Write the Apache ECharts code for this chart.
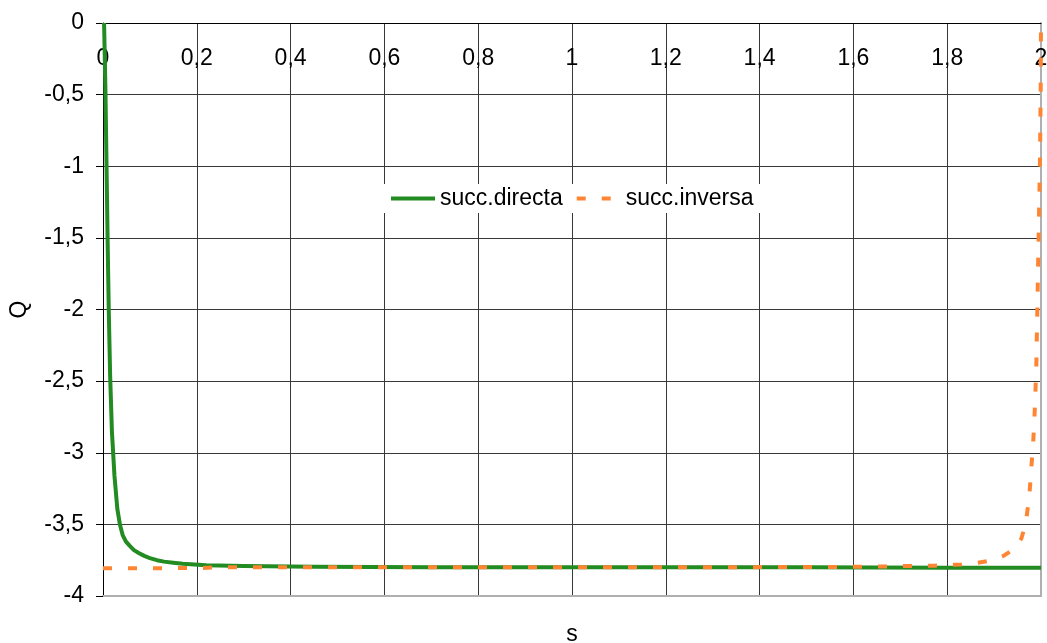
<!DOCTYPE html>
<html>
<head>
<meta charset="utf-8">
<title>Q(s)</title>
<script src="https://cdn.jsdelivr.net/npm/echarts@6/dist/echarts.min.js"></script>
<style>
  html, body { margin: 0; padding: 0; background: #fff; }
  #chart { width: 1047px; height: 643px; }
</style>
</head>
<body>
<div id="chart"></div>
<script>
// s values and Q values for the direct succession
const directaS = [0.0023, 0.0053, 0.0076, 0.0099, 0.0122, 0.0152, 0.019, 0.0244, 0.0305, 0.036, 0.0419, 0.049, 0.0571, 0.066, 0.0761,
  0.088, 0.1, 0.115, 0.13, 0.15, 0.17, 0.22, 0.3, 0.45, 0.7, 1.0, 1.5, 1.8, 2.0];
const directaQ = [0, -0.49, -1.01, -1.53, -1.99, -2.46, -2.85, -3.16, -3.39, -3.50, -3.575, -3.62, -3.65, -3.68, -3.70,
  -3.72, -3.735, -3.75, -3.76, -3.768, -3.775, -3.785, -3.79, -3.795, -3.80, -3.80, -3.80, -3.802, -3.802];

// s values and Q values for the inverse succession
const inversaS = [0, 0.1, 0.2, 0.25, 0.5, 1.0, 1.5, 1.65, 1.718, 1.772, 1.83, 1.86, 1.889, 1.92, 1.943, 1.958, 1.967,
  1.975, 1.979, 1.983, 1.986, 1.988, 1.990, 1.991, 1.992, 1.993, 1.994, 1.995, 1.996, 1.997, 1.998, 1.9985, 1.999, 1.9995, 2.0];
const inversaQ = [-3.806, -3.806, -3.805, -3.80, -3.80, -3.80, -3.798, -3.795, -3.79, -3.788, -3.78, -3.77, -3.755, -3.72, -3.67, -3.60, -3.50,
  -3.31, -3.12, -2.95, -2.76, -2.585, -2.40, -2.21, -2.04, -1.85, -1.66, -1.49, -1.30, -1.11, -0.92, -0.75, -0.58, -0.39, 0];

// axis tick labels (decimal comma)
const sTicks = [0, 0.2, 0.4, 0.6, 0.8, 1, 1.2, 1.4, 1.6, 1.8, 2];
const sTickLabels = ['0', '0,2', '0,4', '0,6', '0,8', '1', '1,2', '1,4', '1,6', '1,8', '2'];
const qTicks = [0, -0.5, -1, -1.5, -2, -2.5, -3, -3.5, -4];
const qTickLabels = ['0', '-0,5', '-1', '-1,5', '-2', '-2,5', '-3', '-3,5', '-4'];

const seriesNames = ['succ.directa', 'succ.inversa'];

function zip(xs, ys) { return xs.map((x, i) => [x, ys[i]]); }
function lookup(ticks, labels, v) {
  for (let i = 0; i < ticks.length; i++) {
    if (Math.abs(ticks[i] - v) < 1e-9) return labels[i];
  }
  return '';
}

const FONT = 'Liberation Sans, Arial, sans-serif';
const FS = 23;
const chart = echarts.init(document.getElementById('chart'), null, { renderer: 'canvas' });

chart.setOption({
  animation: false,
  backgroundColor: '#fff',
  textStyle: { fontFamily: FONT },
  grid: { left: 103, right: 6, top: 23, bottom: 47, containLabel: false, outerBoundsMode: 'none' },
  legend: {
    data: seriesNames,
    left: 382,
    top: 184,
    padding: [3, 8, 3, 7],
    backgroundColor: '#fff',
    itemWidth: 44,
    itemHeight: 4,
    itemGap: 12,
    itemStyle: { color: 'rgba(0,0,0,0)', borderWidth: 0 },
    lineStyle: { width: 4 },
    textStyle: { fontSize: FS, color: '#000', fontFamily: FONT }
  },
  xAxis: [
    {
      type: 'value',
      position: 'top',
      min: 0, max: 2, interval: 0.2,
      axisLine: { show: true, onZero: false, lineStyle: { color: '#000', width: 1 } },
      axisTick: { show: false },
      axisLabel: {
        inside: true, margin: 24, fontSize: FS, color: '#000', fontFamily: FONT,
        formatter: v => lookup(sTicks, sTickLabels, v)
      },
      splitLine: { show: true, showMinLine: false, showMaxLine: false, lineStyle: { color: '#383838', width: 1 } }
    },
    {
      type: 'value',
      position: 'bottom',
      min: 0, max: 2,
      name: 's',
      nameLocation: 'middle',
      nameGap: 27,
      nameTextStyle: { fontSize: FS, color: '#000', fontFamily: FONT },
      axisLine: { show: true, onZero: false, lineStyle: { color: '#b0b0b0', width: 2 } },
      axisTick: { show: false },
      axisLabel: { show: false },
      splitLine: { show: false }
    }
  ],
  yAxis: [
    {
      type: 'value',
      position: 'left',
      min: -4, max: 0, interval: 0.5,
      name: 'Q',
      nameLocation: 'middle',
      nameGap: 72,
      nameTextStyle: { fontSize: FS, color: '#000', fontFamily: FONT },
      axisLine: { show: true, onZero: false, lineStyle: { color: '#000', width: 1 } },
      axisTick: { show: true, length: 7, lineStyle: { color: '#000', width: 1 } },
      axisLabel: {
        margin: 19, fontSize: FS, color: '#000', fontFamily: FONT,
        formatter: v => lookup(qTicks, qTickLabels, v)
      },
      splitLine: { show: true, showMinLine: false, showMaxLine: false, lineStyle: { color: '#383838', width: 1 } }
    },
    {
      type: 'value',
      position: 'right',
      min: -4, max: 0,
      axisLine: { show: true, onZero: false, lineStyle: { color: '#b0b0b0', width: 2 } },
      axisTick: { show: false },
      axisLabel: { show: false },
      splitLine: { show: false }
    }
  ],
  series: [
    {
      name: seriesNames[0],
      type: 'line',
      xAxisIndex: 0,
      yAxisIndex: 0,
      data: zip(directaS, directaQ),
      symbol: 'none',
      showSymbol: false,
      smooth: false,
      lineStyle: { color: '#228b22', width: 4, join: 'round' },
      itemStyle: { color: '#228b22' },
      z: 3
    },
    {
      name: seriesNames[1],
      type: 'line',
      xAxisIndex: 0,
      yAxisIndex: 0,
      data: zip(inversaS, inversaQ),
      symbol: 'none',
      showSymbol: false,
      smooth: false,
      lineStyle: { color: '#ff8533', width: 4, type: [9, 16], cap: 'butt' },
      itemStyle: { color: '#ff8533' },
      z: 4
    }
  ]
});
</script>
</body>
</html>
